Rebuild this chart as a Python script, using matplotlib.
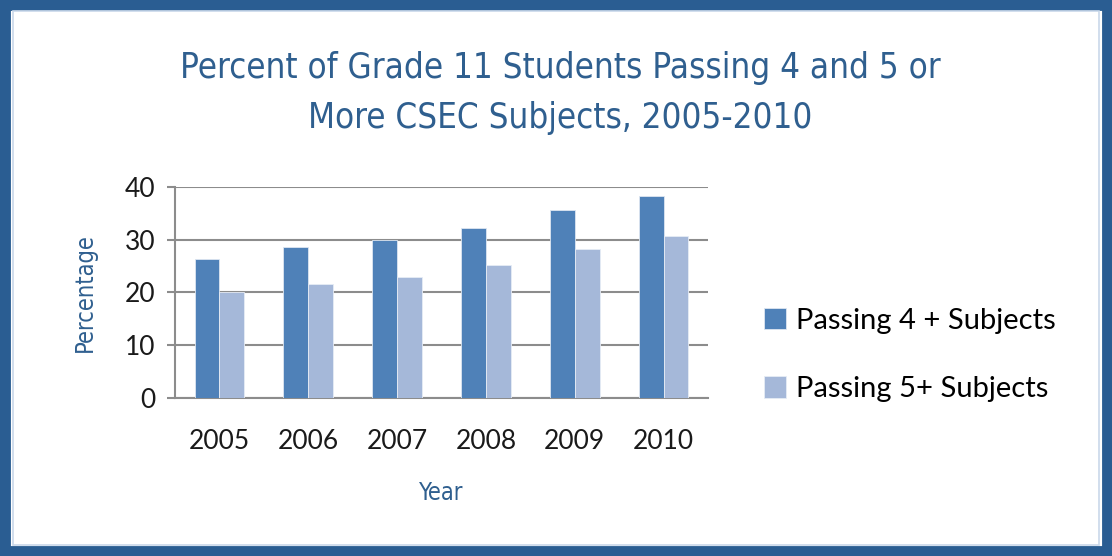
import matplotlib
matplotlib.use("Agg")
import matplotlib.pyplot as plt
import numpy as np
from matplotlib.patches import Rectangle

# Data
years = ["2005", "2006", "2007", "2008", "2009", "2010"]
passing_4 = [26.4, 28.6, 30.0, 32.3, 35.6, 38.2]
passing_5 = [20.0, 21.6, 23.0, 25.2, 28.2, 30.8]
series_labels = ["Passing 4 + Subjects", "Passing 5+ Subjects"]

dark_blue = "#4f81b8"
light_blue = "#a5b8d9"
title_blue = "#2f5f8f"
frame_blue = "#2a5d92"

plt.rcParams['font.family'] = ['Lato', 'DejaVu Sans']

fig = plt.figure(figsize=(11.12, 5.56), dpi=100)

# outer frame
fig.patches.append(Rectangle((0, 0), 1, 1, transform=fig.transFigure,
                             facecolor="none", edgecolor=frame_blue,
                             linewidth=15, zorder=10))
fig.patches.append(Rectangle((0.0115, 0.0205), 0.977, 0.96, transform=fig.transFigure,
                             facecolor="none", edgecolor="#c9d8ea",
                             linewidth=1.2, zorder=10))

ax = fig.add_axes([175 / 1112, 1 - 398 / 556, 533 / 1112, 211 / 556])

x = np.arange(len(years))
w = 0.28
ax.bar(x - w / 2, passing_4, w, color=dark_blue, label=series_labels[0],
       edgecolor="#dde6f1", linewidth=0.6, zorder=3)
ax.bar(x + w / 2, passing_5, w, color=light_blue, label=series_labels[1],
       edgecolor="#e6ecf5", linewidth=0.6, zorder=3)

ax.set_xlim(-0.5, len(years) - 0.5)
ax.set_ylim(0, 40)
ax.set_yticks([0, 10, 20, 30, 40])
ax.set_xticks(x)
ax.set_xticklabels(years)
ax.yaxis.grid(True, color="#8c8c8c", linewidth=1.5, zorder=0)
ax.set_axisbelow(True)
for s in ["top", "right"]:
    ax.spines[s].set_visible(False)
ax.spines["left"].set_color("#8c8c8c")
ax.spines["left"].set_linewidth(1.5)
ax.spines["bottom"].set_color("#8c8c8c")
ax.spines["bottom"].set_linewidth(1.5)
ax.tick_params(axis="y", length=6, width=1.5, color="#8c8c8c", labelsize=19,
               labelcolor="#1a1a1a", pad=8)
ax.tick_params(axis="x", length=0, labelsize=19, labelcolor="#1a1a1a", pad=22)

ax.set_ylabel("Percentage", fontsize=17, color=title_blue,
              family="DejaVu Sans", fontstretch="condensed", labelpad=20)
ax.set_xlabel("Year", fontsize=17, color=title_blue,
              family="DejaVu Sans", fontstretch="condensed", labelpad=20)

fig.text(0.504, 0.833, "Percent of Grade 11 Students Passing 4 and 5 or\nMore CSEC Subjects, 2005-2010",
         ha="center", va="center", fontsize=25, color=title_blue,
         family="DejaVu Sans", fontstretch="condensed", linespacing=1.6)

fig.legend(loc="center left", bbox_to_anchor=(738 / 1112, 1 - 355 / 556),
           frameon=False, fontsize=21, handlelength=0.75, handleheight=0.75,
           handletextpad=0.35, labelspacing=1.45)

fig.savefig("out.png", dpi=100)
